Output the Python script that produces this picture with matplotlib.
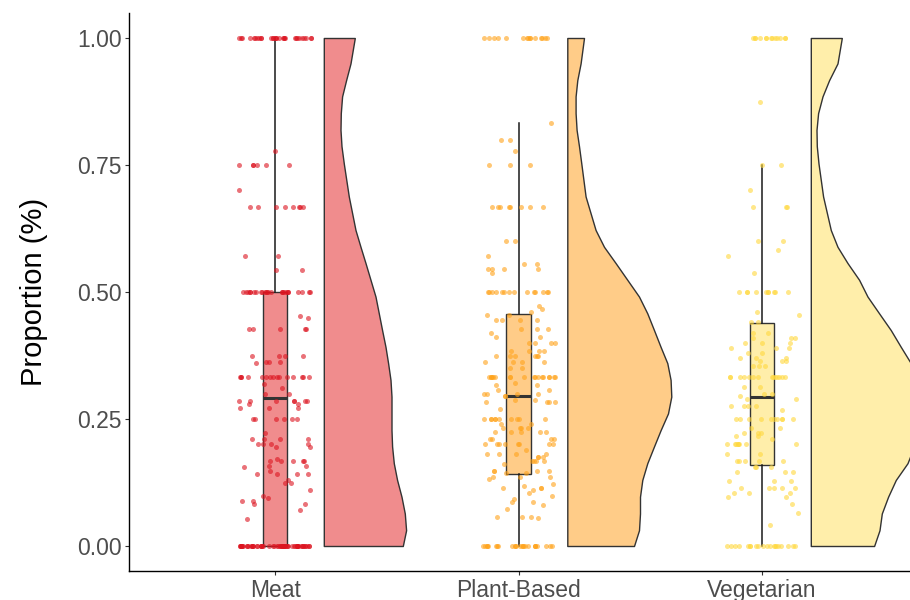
import numpy as np
import matplotlib.pyplot as plt

plt.rcParams['font.family'] = ['Liberation Sans', 'DejaVu Sans']

# groups and colours
groups = ["Meat", "Plant-Based", "Vegetarian"]
point_colors = ["#DC1420", "#FFA31A", "#FFD83D"]
fill_colors = ["#F08C8D", "#FFCC88", "#FFEEAA"]

# proportions per participant
meat_values = ([1.0] * 30 + [0.778] + [0.75] * 6 + [0.70] + [0.667] * 8 + [0.571] * 2
               + [0.543] * 2 + [0.5] * 25 + [0.453, 0.449] + [0.427] * 5 + [0.374] * 4
               + [0.363] * 3 + [0.36] + [0.333] * 15 + [0.319, 0.312] + [0.299] * 2
               + [0.286] * 7 + [0.279] * 2 + [0.272] * 3 + [0.25] * 6 + [0.222] + [0.21] * 4
               + [0.2] * 4 + [0.195] * 2 + [0.171] + [0.167] * 5 + [0.158] * 2 + [0.155]
               + [0.148] + [0.142] * 4 + [0.13] + [0.125] * 2 + [0.11] + [0.098, 0.095]
               + [0.089] * 2 + [0.083] * 2 + [0.07, 0.054] + [0.0] * 60)

plant_values = ([1.0] * 15 + [0.833] + [0.8] * 2 + [0.778] + [0.75] * 3 + [0.667] * 8
                + [0.6] * 2 + [0.571] + [0.556] * 2 + [0.545] * 4 + [0.538] + [0.5] * 14
                + [0.473, 0.466, 0.46] + [0.455] * 2 + [0.444] * 4 + [0.428] * 3 + [0.42]
                + [0.411] * 2 + [0.4] * 4 + [0.384] * 4 + [0.375] * 6 + [0.363] * 4
                + [0.35] * 2 + [0.333] * 18 + [0.32] + [0.316] * 2 + [0.307] * 2 + [0.3] * 4
                + [0.295] * 2 + [0.287] * 2 + [0.283] * 4 + [0.269] + [0.25] * 10
                + [0.241] * 2 + [0.232] * 4 + [0.224] * 5 + [0.21] * 4 + [0.2] * 8 + [0.188]
                + [0.181] * 4 + [0.175] * 3 + [0.168] * 4 + [0.161] + [0.148] * 4
                + [0.144] * 2 + [0.135] * 3 + [0.131] + [0.123] + [0.118] + [0.114] * 3
                + [0.11] + [0.104] + [0.099] + [0.093] + [0.087] * 2 + [0.08] + [0.073]
                + [0.058] * 3 + [0.055] + [0.0] * 25)

veg_values = ([1.0] * 13 + [0.875] + [0.75] * 2 + [0.7] + [0.667] * 3 + [0.6] * 2
              + [0.583] + [0.571] + [0.537] + [0.5] * 10 + [0.46, 0.454] + [0.44] * 2
              + [0.42] * 2 + [0.41] * 3 + [0.4] * 3 + [0.39] * 3 + [0.38] * 2 + [0.37] * 3
              + [0.365] * 3 + [0.355] * 3 + [0.333] * 14 + [0.313] * 2 + [0.3] * 2
              + [0.296] + [0.29] * 2 + [0.275] * 4 + [0.268] + [0.25] * 10 + [0.232] * 2
              + [0.222] * 3 + [0.216] * 2 + [0.21] + [0.2] * 8 + [0.181] * 2 + [0.168] * 5
              + [0.155] * 3 + [0.146] * 3 + [0.128] * 3 + [0.115] * 5 + [0.105] * 3
              + [0.096] * 2 + [0.082] + [0.064] + [0.042] + [0.0] * 20)

# boxplot statistics
box_lo = [0.0, 0.0, 0.0]
box_q1 = [0.0, 0.142, 0.159]
box_med = [0.292, 0.296, 0.293]
box_q3 = [0.5, 0.456, 0.438]
box_hi = [1.0, 0.833, 0.75]

# half-violin density outline
violin_y = [1.0, 0.95, 0.917, 0.885, 0.852, 0.819, 0.787, 0.753, 0.688, 0.622, 0.589,
            0.557, 0.524, 0.491, 0.458, 0.425, 0.392, 0.36, 0.327, 0.294, 0.261, 0.228,
            0.196, 0.163, 0.13, 0.097, 0.064, 0.031, 0.0]
meat_density = [0.31, 0.267, 0.223, 0.183, 0.17, 0.167, 0.177, 0.20, 0.25, 0.317, 0.367,
                0.417, 0.467, 0.517, 0.55, 0.583, 0.617, 0.643, 0.667, 0.677, 0.677,
                0.677, 0.683, 0.70, 0.733, 0.777, 0.81, 0.823, 0.79]
plant_density = [0.167, 0.133, 0.10, 0.083, 0.083, 0.093, 0.117, 0.14, 0.183, 0.283,
                 0.367, 0.483, 0.60, 0.717, 0.80, 0.867, 0.933, 1.0, 1.033, 1.04, 1.007,
                 0.933, 0.867, 0.80, 0.75, 0.727, 0.727, 0.717, 0.667]
veg_density = [0.31, 0.267, 0.183, 0.117, 0.073, 0.057, 0.06, 0.077, 0.123, 0.20, 0.267,
               0.367, 0.483, 0.567, 0.683, 0.80, 0.90, 1.0, 1.05, 1.083, 1.093, 1.073,
               1.033, 0.967, 0.85, 0.773, 0.71, 0.687, 0.633]

all_values = [meat_values, plant_values, veg_values]
all_density = [meat_density, plant_density, veg_density]
positions = np.arange(1, len(groups) + 1)

fig = plt.figure(figsize=(9.1, 6), dpi=100)
ax = fig.add_axes([129 / 910, 1 - 571.4 / 600, 1 - 129 / 910, (571.4 - 12.6) / 600])

# violins, shifted to the right of each box
dens_scale = 100 / 243.5
for i, pos in enumerate(positions):
    x0 = pos + 0.2
    xs = x0 + np.array(all_density[i]) * dens_scale
    ax.fill_betweenx(violin_y, x0, xs, facecolor=fill_colors[i],
                     edgecolor='#333333', linewidth=1.0, zorder=1)

# boxes
stats = []
for i in range(len(groups)):
    stats.append(dict(whislo=box_lo[i], q1=box_q1[i], med=box_med[i],
                      q3=box_q3[i], whishi=box_hi[i]))
bp = ax.bxp(stats, positions=positions, widths=0.1, patch_artist=True,
            showfliers=False, showcaps=False,
            boxprops=dict(edgecolor='#333333', linewidth=1.0),
            medianprops=dict(color='#333333', linewidth=2.2),
            whiskerprops=dict(color='#1A1A1A', linewidth=1.1))
for patch, c in zip(bp['boxes'], fill_colors):
    patch.set_facecolor(c)
    patch.set_zorder(2)

# jittered points
rng = np.random.default_rng(7)
for i, pos in enumerate(positions):
    vals = np.array(all_values[i])
    jx = pos + rng.uniform(-0.15, 0.15, len(vals))
    ax.scatter(jx, vals, s=13, color=point_colors[i], alpha=0.6,
               linewidths=0, zorder=3)

ax.set_xlim(0.4, 0.4 + (910 - 129) / 243.5)
ax.set_ylim(-0.05, 1.05)
ax.set_xticks(positions)
ax.set_xticklabels(groups)
ax.set_yticks([0, 0.25, 0.5, 0.75, 1.0])
ax.set_yticklabels(["0.00", "0.25", "0.50", "0.75", "1.00"])
ax.set_ylabel("Proportion (%)", fontsize=21, labelpad=21)

for s in ['top', 'right']:
    ax.spines[s].set_visible(False)
for s in ['left', 'bottom']:
    ax.spines[s].set_linewidth(1.0)
    ax.spines[s].set_color('black')
ax.tick_params(length=3.2, width=0.8, color='#333333', labelcolor='#4D4D4D',
               labelsize=16.5, pad=2)

fig.savefig('out.png', dpi=100)
